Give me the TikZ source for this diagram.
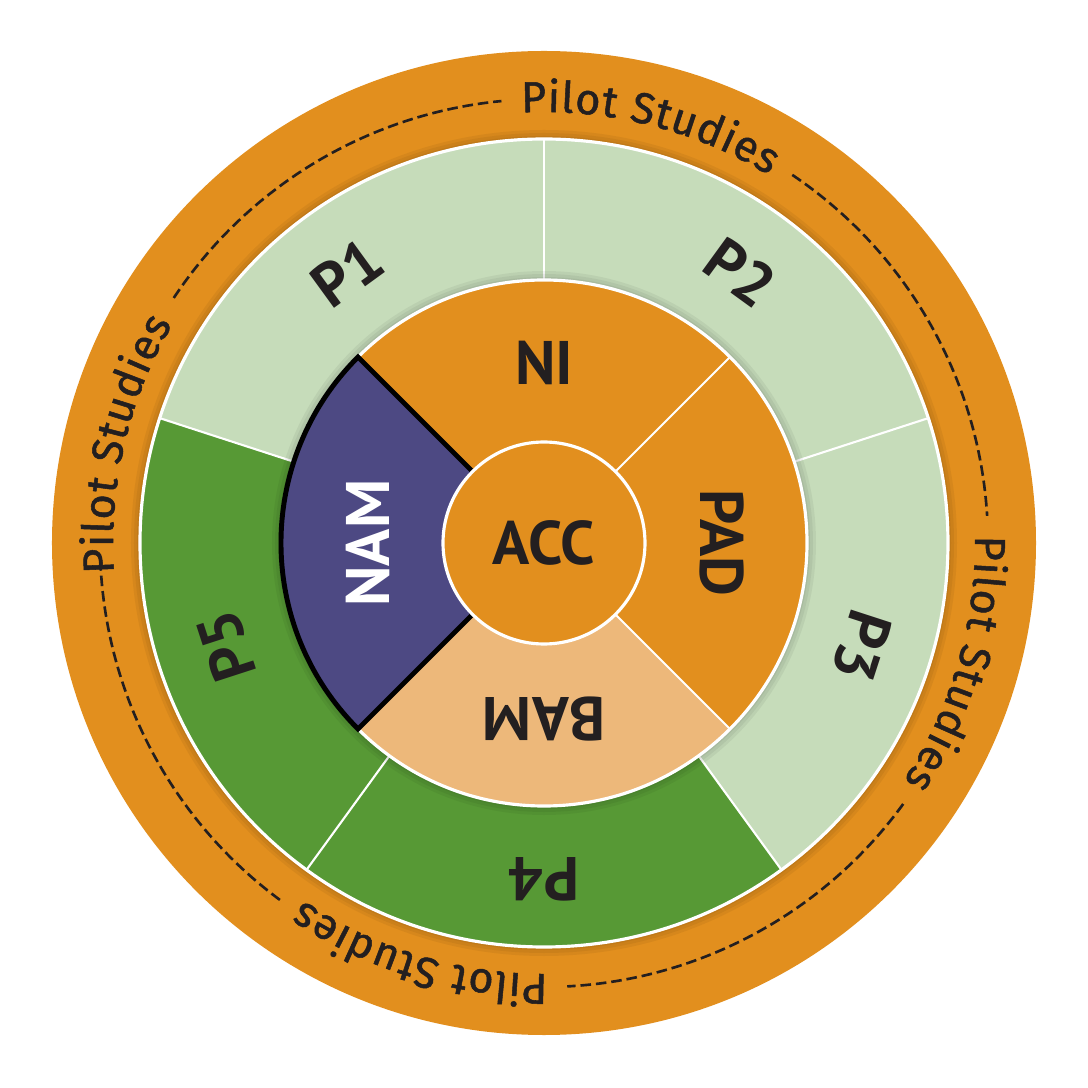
\documentclass[tikz,border=0pt]{standalone}
\usepackage{fontspec}
\setmainfont{PT Sans}
\newfontfamily\pilotfont[FakeBold=1.2]{Fira Sans}
\usetikzlibrary{decorations.text}
\definecolor{ora}{HTML}{E28F1E}
\definecolor{lora}{HTML}{EDB87A}
\definecolor{lgreen}{HTML}{C6DCBA}
\definecolor{dgreen}{HTML}{579935}
\definecolor{purp}{HTML}{4D4983}
\definecolor{txt}{HTML}{231F20}
\tikzset{
  lab/.style={font=\bfseries\fontsize{17.5}{20}\selectfont, text=txt, inner sep=0pt, text height=12.2pt, text depth=0pt, anchor=center},
  sepline/.style={white, line width=0.6pt},
  rimline/.style={white, line width=0.9pt},
  dashring/.style={txt, line width=0.75pt, dash pattern=on 3pt off 1.4pt},
  pilot/.style={decorate, decoration={text along path, text align={fit to path}, text={|\pilotfont\fontsize{12.3}{14}\selectfont\color{txt}|Pilot Studies}}}
}
\begin{document}
\begin{tikzpicture}[x=0.01cm,y=0.01cm]
\useasboundingbox (-544,-545) rectangle (544,543);
% outer orange disc
\fill[ora] (0,0) circle[radius=492];
% soft shadow around green ring
\foreach \r in {413,410,407}{\fill[black,opacity=0.05] (0,0) circle[radius=\r];}
% green pilot sectors
\fill[lgreen] (0,0) -- (90:404) arc[start angle=90,end angle=162,radius=404] -- cycle;
\fill[lgreen] (0,0) -- (18:404) arc[start angle=18,end angle=90,radius=404] -- cycle;
\fill[lgreen] (0,0) -- (-54:404) arc[start angle=-54,end angle=18,radius=404] -- cycle;
\fill[dgreen] (0,0) -- (-126:404) arc[start angle=-126,end angle=-54,radius=404] -- cycle;
\fill[dgreen] (0,0) -- (162:404) arc[start angle=162,end angle=234,radius=404] -- cycle;
\foreach \a in {90,18,-54,-126,162}{\draw[sepline] (\a:250) -- (\a:404);}
\draw[rimline] (0,0) circle[radius=404];
% soft shadow around inner ring
\foreach \r in {272,269,266}{\fill[black,opacity=0.05] (0,0) circle[radius=\r];}
% inner ring sectors
\fill[ora] (0,0) -- (45:263) arc[start angle=45,end angle=135,radius=263] -- cycle;
\fill[ora] (0,0) -- (-45:263) arc[start angle=-45,end angle=45,radius=263] -- cycle;
\fill[lora] (0,0) -- (-135:263) arc[start angle=-135,end angle=-45,radius=263] -- cycle;
\draw[rimline] (0,0) circle[radius=263];
\foreach \a in {45,-45,-135}{\draw[sepline] (0,0) -- (\a:263);}
\filldraw[fill=purp, draw=black, line width=1.4pt, line join=miter] (0,0) -- (135:263) arc[start angle=135,end angle=225,radius=263] -- cycle;
% centre
\filldraw[fill=ora, draw=white, line width=0.9pt] (0,0) circle[radius=101];
% labels
\node[lab, rotate=0] (acc) at (0,0) {ACC};
\node[lab, rotate=0] (ni) at (90:180) {NI};
\node[lab, rotate=-90] (pad) at (0:178) {PAD};
\node[lab, rotate=180] (bam) at (-90:176) {BAM};
\node[lab, rotate=90, text=white] (nam) at (180:176) {NAM};
\node[lab, rotate=36] (p1) at (126:334) {P1};
\node[lab, rotate=-36] (p2) at (54:334) {P2};
\node[lab, rotate=-108] (p3) at (-18:334) {P3};
\node[lab, rotate=180] (p4) at (-90:336) {P4};
\node[lab, rotate=108] (p5) at (198:334) {P5};
% pilot studies ring
\path[pilot] (93:431) arc[start angle=93,end angle=58.5,radius=431];
\path[pilot] (1:431) arc[start angle=1,end angle=-33.5,radius=431];
\path[pilot] (-89.5:431) arc[start angle=-89.5,end angle=-124,radius=431];
\path[pilot] (184:431) arc[start angle=184,end angle=149.5,radius=431];
\draw[dashring] (146.5:444) arc[start angle=146.5,end angle=95.5,radius=444];
\draw[dashring] (56:444) arc[start angle=56,end angle=3.5,radius=444];
\draw[dashring] (-36:444) arc[start angle=-36,end angle=-87,radius=444];
\draw[dashring] (-126.5:444) arc[start angle=-126.5,end angle=-178.5,radius=444];
\end{tikzpicture}
\end{document}
